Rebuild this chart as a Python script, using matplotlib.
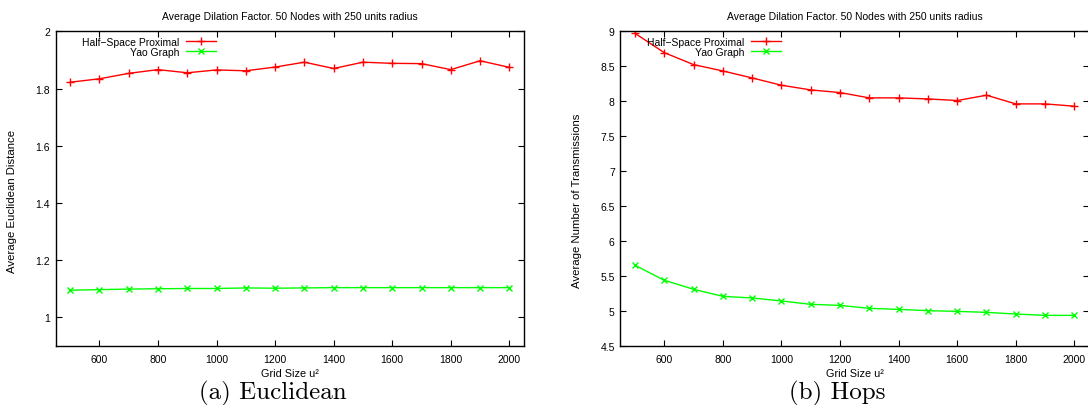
import matplotlib
matplotlib.use("Agg")
import matplotlib.pyplot as plt
from matplotlib.ticker import FuncFormatter

grid_sizes = [500, 600, 700, 800, 900, 1000, 1100, 1200, 1300, 1400, 1500, 1600, 1700, 1800, 1900, 2000]

euc_hsp = [1.822, 1.834, 1.853, 1.866, 1.855, 1.865, 1.862, 1.875, 1.892, 1.870,
           1.892, 1.888, 1.887, 1.866, 1.897, 1.874]
euc_yao = [1.095, 1.097, 1.099, 1.100, 1.101, 1.101, 1.103, 1.102, 1.103, 1.104,
           1.104, 1.104, 1.104, 1.104, 1.104, 1.104]

hops_hsp = [8.971, 8.695, 8.524, 8.433, 8.333, 8.229, 8.162, 8.124, 8.048, 8.048,
            8.033, 8.010, 8.086, 7.962, 7.962, 7.929]
hops_yao = [5.655, 5.440, 5.311, 5.210, 5.187, 5.144, 5.096, 5.081, 5.038, 5.024,
            5.005, 4.995, 4.981, 4.957, 4.938, 4.938]

series_labels = ["Half\u2212Space Proximal", "Yao Graph"]
title = "Average Dilation Factor. 50 Nodes with 250 units radius"
xlabel = "Grid Size u\u00b2"
ylabels = ["Average Euclidean Distance", "Average Number of Transmissions"]
captions = ["(a) Euclidean", "(b) Hops"]
xticks = [600, 800, 1000, 1200, 1400, 1600, 1800, 2000]
yticks_a = [1, 1.2, 1.4, 1.6, 1.8, 2]
yticks_b = [4.5, 5, 5.5, 6, 6.5, 7, 7.5, 8, 8.5, 9]

W, H = 1088, 406
plt.rcParams['font.family'] = ['Liberation Sans', 'DejaVu Sans']
plt.rcParams['axes.unicode_minus'] = False
fig = plt.figure(figsize=(W / 100, H / 100), dpi=100)

def px_axes(l, r, t, b):
    return fig.add_axes([l / W, 1 - b / H, (r - l) / W, (b - t) / H])

panels = [
    dict(box=(55.5, 524, 32.3, 347), hsp=euc_hsp, yao=euc_yao, ylim=(0.9, 2), yticks=yticks_a,
         ylabel=ylabels[0], caption=captions[0], ylab_x=12, cap_x=273, leg_x=0.045),
    dict(box=(620.3, 1089, 32.3, 347), hsp=hops_hsp, yao=hops_yao, ylim=(4.5, 9), yticks=yticks_b,
         ylabel=ylabels[1], caption=captions[1], ylab_x=577, cap_x=837, leg_x=0.045),
]

fmt = FuncFormatter(lambda v, p: "%g" % v)

for p in panels:
    l, r, t, b = p["box"]
    ax = px_axes(l, r, t, b)
    ax.plot(grid_sizes, p["hsp"], color="#ff0000", lw=1.0, marker="+", ms=5.5, mew=1.0,
            label=series_labels[0])
    ax.plot(grid_sizes, p["yao"], color="#00ff00", lw=1.0, marker="x", ms=4, mew=1.0,
            label=series_labels[1])
    ax.set_xlim(450, 2050)
    ax.set_ylim(*p["ylim"])
    ax.set_xticks(xticks)
    ax.set_yticks(p["yticks"])
    ax.yaxis.set_major_formatter(fmt)
    ax.tick_params(direction="in", length=4, width=0.8, top=True, right=True,
                   labelsize=7.5, pad=4, colors="black")
    ax.tick_params(axis="x", pad=6)
    for s in ax.spines.values():
        s.set_linewidth(1.0)
    ax.set_title(title, fontsize=7.5, pad=9)
    ax.set_xlabel(xlabel, fontsize=7.8, labelpad=3)
    fig.text(p["ylab_x"] / W, 1 - 201 / H, p["ylabel"], rotation=90,
             ha="center", va="center", fontsize=8.2)
    fig.text(p["cap_x"] / W, 1 - 399.5 / H, p["caption"],
             ha="center", va="baseline", fontsize=18, family=["cmr10", "DejaVu Serif"])
    leg = ax.legend(loc="upper left", bbox_to_anchor=(p["leg_x"], 1.0), frameon=False,
                    fontsize=7.5, markerfirst=False, handlelength=2.9, handletextpad=0.6,
                    labelspacing=0.0, borderaxespad=0.15)
    leg._legend_box.align = "right"

fig.savefig("out.png", dpi=100)
